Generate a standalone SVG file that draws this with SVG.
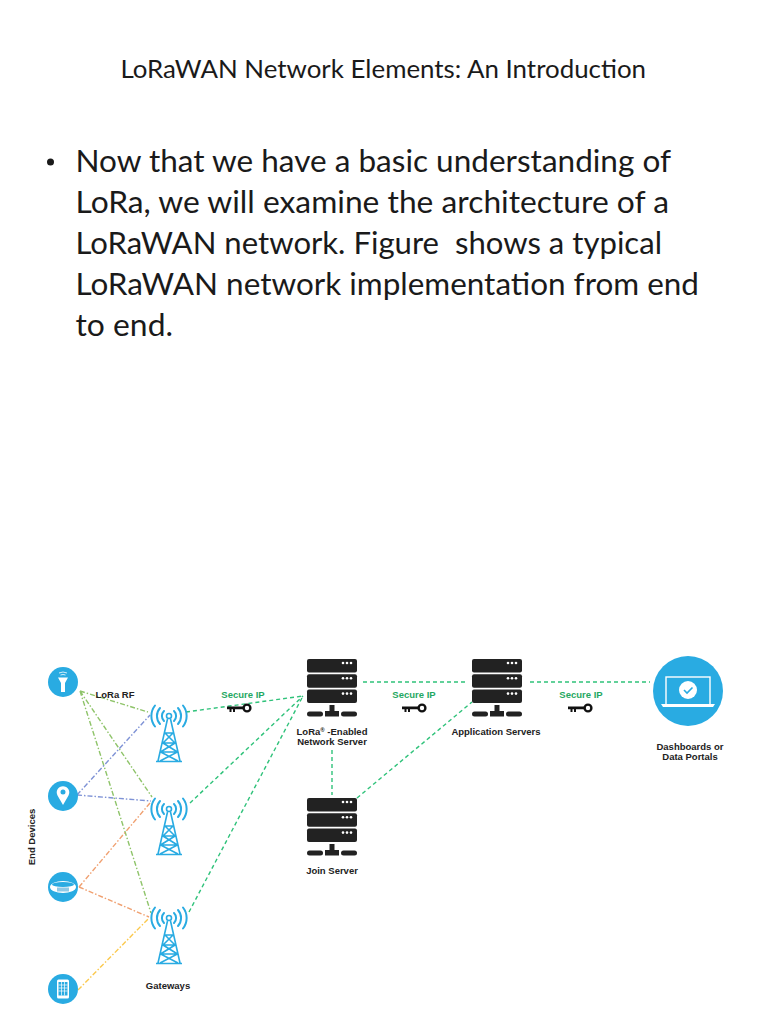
<svg xmlns="http://www.w3.org/2000/svg" width="768" height="1024" viewBox="0 0 768 1024">
<style>
text{font-family:"Lato","Open Sans","Liberation Sans",sans-serif;fill:#1a1a1a;white-space:pre}
.body{font-size:31px}
.title{font-size:25px}
.lab{font-family:"Liberation Sans",Arial,sans-serif;font-size:9.500px;font-weight:700;text-anchor:middle;fill:#222}
.sec{font-family:"Liberation Sans",Arial,sans-serif;font-size:9.500px;font-weight:700;text-anchor:middle;fill:#1fa862}
.ip{fill:none;stroke:#2fc27a;stroke-width:1.400;stroke-dasharray:4 3}
.rf{fill:none;stroke-width:1.400;stroke-dasharray:5 2 1.500 2}
.g{stroke:#8fc46a}.b{stroke:#7f93d6}.o{stroke:#f0a070}.y{stroke:#fbc94e}
.dev{fill:#29abe2}
.t{fill:none;stroke:#29abe2;stroke-width:1.600}
.arc{fill:none;stroke:#29abe2;stroke-width:2;stroke-linecap:round}
</style>
<defs>
<g id="tower">
<path class="arc" d="M-5 -5A7 7 0 0 0 -5 5M5 -5A7 7 0 0 1 5 5"/>
<path class="arc" d="M-9 -8A12 12 0 0 0 -9 8M9 -8A12 12 0 0 1 9 8"/>
<path class="arc" d="M-14 -10.500A17 17 0 0 0 -14 10.500M14 -10.500A17 17 0 0 1 14 10.500"/>
<circle class="t" cx="0" cy="0" r="2.500"/>
<path class="t" d="M-1.500 3L-11 45M1.500 3L11 45M-13 45.500H13M-4 17L6 27L-8.500 36L9 45M4 17L-6 27L8.500 36L-9 45M-4 17H4M-6 27H6M-8.500 36H8.500"/>
</g>
<g id="server">
<rect x="0" y="0" width="50" height="13.500" rx="2" fill="#222"/>
<rect x="0" y="15.300" width="50" height="13.500" rx="2" fill="#222"/>
<rect x="0" y="30.600" width="50" height="13.500" rx="2" fill="#222"/>
<g fill="#fff"><circle cx="36" cy="4" r="1.300"/><circle cx="40" cy="4" r="1.300"/><circle cx="44" cy="4" r="1.300"/><circle cx="36" cy="19.300" r="1.300"/><circle cx="40" cy="19.300" r="1.300"/><circle cx="44" cy="19.300" r="1.300"/><circle cx="36" cy="34.600" r="1.300"/><circle cx="40" cy="34.600" r="1.300"/><circle cx="44" cy="34.600" r="1.300"/></g>
<path fill="#222" d="M22.500 46H27.500V52H32V57.500H18V52H22.500Z"/>
<rect x="0" y="52.500" width="16" height="5" rx="2.500" fill="#222"/>
<rect x="34" y="52.500" width="16" height="5" rx="2.500" fill="#222"/>
</g>
<g id="key">
<circle cx="20" cy="0" r="3.400" fill="none" stroke="#111" stroke-width="2.400"/>
<path fill="#111" d="M0 -1.500H17V1.200H8V4H6V1.200H4.500V4H2.500V1.200H0Z"/>
</g>
</defs>
<rect width="768" height="1024" fill="#fff"/>
<text class="title" x="120.500" y="78" textLength="525.500" lengthAdjust="spacingAndGlyphs">LoRaWAN Network Elements: An Introduction</text>
<circle cx="50.500" cy="162" r="3.500" fill="#1a1a1a"/>
<g class="body">
<text x="75.500" y="172" textLength="595.500" lengthAdjust="spacingAndGlyphs">Now that we have a basic understanding of</text>
<text x="75.500" y="213" textLength="593.500" lengthAdjust="spacingAndGlyphs">LoRa, we will examine the architecture of a</text>
<text x="75.500" y="254" textLength="586.500" lengthAdjust="spacingAndGlyphs">LoRaWAN network. Figure  shows a typical</text>
<text x="75.500" y="295" textLength="623.500" lengthAdjust="spacingAndGlyphs">LoRaWAN network implementation from end</text>
<text x="75.500" y="336" textLength="97.500" lengthAdjust="spacingAndGlyphs">to end.</text>
</g>
<g id="connectors">
<path class="rf g" d="M80 691L148 712M80 691L152 797M80 691L151 913"/>
<path class="rf b" d="M77 795L150 715M77 795L151 801"/>
<path class="rf o" d="M79 887L150 803M79 887L149 917"/>
<path class="rf y" d="M78 990L149 918"/>
<path class="ip" d="M186 712L303 696M190 803L303 696M189 912L303 696M363 682H468M530 682H650M332 750V795M357 798L472 702"/>
</g>
<g id="device-sensor"><circle class="dev" cx="63" cy="682" r="15"/><path fill="#fff" d="M58 677.500H68L65 683V692H61V683Z"/><path fill="none" stroke="#fff" stroke-width="0.800" d="M59 673Q63 671 67 673M60.500 675Q63 674 65.500 675"/></g>
<g id="device-location"><circle class="dev" cx="63" cy="796" r="15"/><path fill="#fff" fill-rule="evenodd" d="M63 805L57.500 795.500A6.300 6.300 0 1 1 68.500 795.500ZM63 789.500A2.500 2.500 0 1 0 63 794.500A2.500 2.500 0 1 0 63 789.500Z"/></g>
<g id="device-band"><circle class="dev" cx="63" cy="887" r="15"/><ellipse cx="63" cy="887" rx="13" ry="6" fill="#fff"/><ellipse cx="63" cy="884.500" rx="11" ry="2.500" fill="#29abe2"/><rect x="57" y="887.500" width="12" height="4" fill="#8fc9e6"/></g>
<g id="device-phone"><circle class="dev" cx="63" cy="989" r="15"/><rect x="57" y="979.500" width="12" height="19" rx="1.500" fill="#fff"/><rect x="58.500" y="982" width="9" height="13.500" fill="#29abe2"/><path stroke="#fff" stroke-width="0.700" d="M58.500 985H67.500M58.500 988H67.500M58.500 991H67.500M61.500 982V995.500M64.500 982V995.500"/></g>
<g id="gateway-1"><use href="#tower" x="169" y="716"/></g>
<g id="gateway-2"><use href="#tower" x="169" y="809"/></g>
<g id="gateway-3"><use href="#tower" x="169" y="918"/></g>
<g id="network-server"><use href="#server" x="307" y="659"/><text class="lab" x="332" y="735">LoRa<tspan font-size="6" dy="-3">®</tspan><tspan dy="3"> -Enabled</tspan></text><text class="lab" x="332" y="745">Network Server</text></g>
<g id="application-servers"><use href="#server" x="472" y="659"/><text class="lab" x="496" y="735">Application Servers</text></g>
<g id="join-server"><use href="#server" x="307" y="798"/><text class="lab" x="332" y="874">Join Server</text></g>
<g id="dashboards"><circle class="dev" cx="688" cy="691" r="35"/><rect x="666" y="677" width="44" height="28" fill="none" stroke="#fff" stroke-width="1.400"/><path fill="#fff" d="M661 704H715L713 707H663Z"/><circle cx="688" cy="690" r="9" fill="#fff"/><path fill="none" stroke="#29abe2" stroke-width="1.600" d="M684 690L687 693L692.500 687.500"/><text class="lab" x="690" y="750">Dashboards or</text><text class="lab" x="690" y="760">Data Portals</text></g>
<g id="labels">
<text class="lab" x="115" y="698">LoRa RF</text>
<text class="lab" transform="translate(35 837) rotate(-90)">End Devices</text>
<text class="lab" x="168" y="989">Gateways</text>
<text class="sec" x="243" y="698">Secure IP</text>
<text class="sec" x="414" y="698">Secure IP</text>
<text class="sec" x="581" y="698">Secure IP</text>
<use href="#key" x="227" y="708"/><use href="#key" x="402" y="708"/><use href="#key" x="568" y="708"/>
</g>
</svg>
